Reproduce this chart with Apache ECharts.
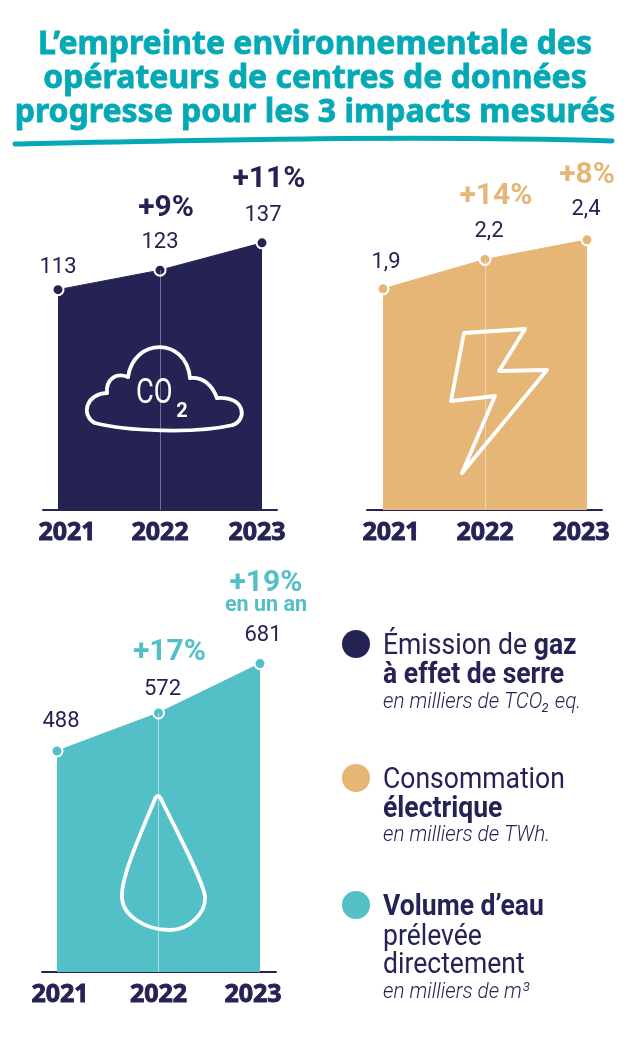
<!DOCTYPE html>
<html lang="fr">
<head>
<meta charset="utf-8">
<title>Empreinte environnementale des centres de données</title>
<script src="https://cdn.jsdelivr.net/npm/echarts@6/dist/echarts.min.js"></script>
<style>
  html, body { margin: 0; padding: 0; background: #fff; }
  #chart { width: 630px; height: 1037px; }
</style>
</head>
<body>
<div id="chart"></div>
<script>
const years = [2021, 2022, 2023];
const co2Values = [113, 123, 137];
const powerValues = [1.9, 2.2, 2.4];
const waterValues = [488, 572, 681];
const co2Growth = ['', '+9%', '+11%'];
const powerGrowth = ['', '+14%', '+8%'];
const waterGrowth = ['', '+17%', '+19%\n{note|en un an}'];

const NAVY = '#252354';
const SAND = '#e5b676';
const TEAL = '#53bfc7';
const TITLE = '#05a9b6';
const ROBOTO = 'Roboto, sans-serif';
const YEAR_FONT = '"Noto Sans", sans-serif';

// px positions of each panel
const panels = [
  { values: co2Values, growth: co2Growth, color: NAVY, ruleColor: 'rgba(255,255,255,0.35)',
    axisLeft: 43, axisRight: 277, first: 58, last: 262, base: 510, top: 237, yMin: 0, yMax: 140,
    yearNudge: [9, 0, -5],
    valueOffset: [[0, -16], [0, -21], [1, -21]], growthOffset: [[0, 0], [6, -61], [7, -63]] },
  { values: powerValues, growth: powerGrowth, color: SAND, ruleColor: 'rgba(255,255,255,0.4)',
    axisLeft: 367, axisRight: 602, first: 383, last: 587, base: 510, top: 230, yMin: -0.355, yMax: 2.5,
    yearNudge: [8, 0, -6],
    valueOffset: [[3, -20], [4, -21], [-1, -24]], growthOffset: [[0, 0], [11, -62], [0, -64]] },
  { values: waterValues, growth: waterGrowth, color: TEAL, ruleColor: 'rgba(255,255,255,0.5)',
    axisLeft: 42, axisRight: 276, first: 57, last: 260, base: 972, top: 655, yMin: 0, yMax: 700,
    yearNudge: [3, 0, -7],
    valueOffset: [[4, -23], [4, -17], [3, -22]], growthOffset: [[0, 0], [11, -60], [6, -70]] }
];

function makePanel(p, i) {
  const pxPerYear = (p.last - p.first) / (years[2] - years[0]);
  const grid = { left: p.axisLeft, width: p.axisRight - p.axisLeft, top: p.top, height: p.base - p.top };
  const xAxis = {
    type: 'value', gridIndex: i,
    min: years[0] - (p.first - p.axisLeft) / pxPerYear,
    max: years[2] + (p.axisRight - p.last) / pxPerYear,
    splitLine: { show: false },
    axisTick: { show: false },
    axisLine: { onZero: false, lineStyle: { color: NAVY, width: 2 } },
    axisLabel: {
      customValues: years.map((y, k) => y + p.yearNudge[k] / pxPerYear),
      formatter: v => String(Math.round(v)),
      margin: 10, color: NAVY, fontFamily: YEAR_FONT, fontWeight: 'bold', fontSize: 25,
      textBorderColor: NAVY, textBorderWidth: 0.9
    }
  };
  const yAxis = { type: 'value', gridIndex: i, min: p.yMin, max: p.yMax, show: false };
  const points = years.map((y, k) => [y, p.values[k]]);
  const area = {
    type: 'line', xAxisIndex: i, yAxisIndex: i, clip: false, z: 2,
    data: points.map((pt, k) => ({
      value: pt,
      label: { offset: p.valueOffset[k] }
    })),
    lineStyle: { color: p.color, width: 1 },
    areaStyle: { color: p.color, opacity: 1, origin: 'start' },
    symbol: 'circle', symbolSize: 11,
    itemStyle: { color: p.color, borderColor: '#fff', borderWidth: 2 },
    label: {
      show: true, position: 'top', distance: 0, verticalAlign: 'middle',
      color: NAVY, fontFamily: ROBOTO, fontSize: 22,
      formatter: o => String(o.value[1]).replace('.', ',')
    },
    markLine: {
      silent: true, symbol: 'none', label: { show: false },
      lineStyle: { color: p.ruleColor, width: 1, type: 'solid' },
      data: [[{ coord: [years[1], p.yMin] }, { coord: [years[1], p.values[1]] }]]
    }
  };
  const growth = {
    type: 'line', xAxisIndex: i, yAxisIndex: i, clip: false, z: 3,
    lineStyle: { width: 0, color: 'rgba(0,0,0,0)' }, symbol: 'circle', symbolSize: 1,
    itemStyle: { color: 'rgba(0,0,0,0)' },
    data: points.map((pt, k) => ({
      value: pt,
      label: { show: p.growth[k] !== '', offset: p.growthOffset[k], formatter: p.growth[k] }
    })),
    label: {
      position: 'top', distance: 0, verticalAlign: 'middle',
      color: p.color, fontFamily: ROBOTO, fontWeight: 'bold', fontSize: 30, lineHeight: 26,
      rich: { note: { color: p.color, fontFamily: ROBOTO, fontWeight: 'bold', fontSize: 21.5, lineHeight: 20 } }
    }
  };
  return { grid, xAxis, yAxis, series: [area, growth] };
}

const built = panels.map(makePanel);

// icons and hand-drawn underline, page px
const WHITE_STROKE = { fill: 'none', stroke: '#fff', lineWidth: 3.8, lineCap: 'round', lineJoin: 'round' };
function curve(x1, y1, c1x, c1y, c2x, c2y, x2, y2, style) {
  return { type: 'bezierCurve', z: 20,
    shape: { x1, y1, cpx1: c1x, cpy1: c1y, cpx2: c2x, cpy2: c2y, x2, y2 },
    style: style || WHITE_STROKE, silent: true };
}
const cloud = [
  [95, 423, 125, 431, 195, 434, 233, 425],
  [233, 425, 247, 420, 246, 396, 217, 398],
  [217, 398, 212, 385, 203, 377, 190, 378],
  [190, 378, 186, 337, 134, 337, 128, 377],
  [128, 377, 115, 372, 106, 380, 107, 393],
  [107, 393, 85, 394, 81, 416, 95, 423]
];
const drop = [
  [155, 799, 140, 835, 122, 875, 122, 895],
  [122, 895, 121, 915, 145, 930, 170, 930],
  [170, 930, 190, 930, 206, 912, 205, 897],
  [205, 897, 204, 882, 175, 828, 161, 799],
  [161, 799, 159, 795, 157, 795, 155, 799]
];
const boltPoints = [[464, 333], [525, 329], [499, 371], [547, 370], [462, 473], [495, 396], [451, 401]];

// legend lines: condensed with scaleX, no condensed face is installed
const CONDENSE = 0.885;
const boldRich = { b: { fontFamily: ROBOTO, fontWeight: 'bold', fontSize: 30, fill: NAVY, verticalAlign: 'middle' } };
function legendText(y, text) {
  return { type: 'text', x: 383, y, scaleX: CONDENSE, z: 20, silent: true,
    style: { text, fill: NAVY, fontFamily: ROBOTO, fontSize: 30, verticalAlign: 'middle', rich: boldRich } };
}
function noteText(y, text) {
  return { type: 'text', x: 383, y, scaleX: 0.92, z: 20, silent: true,
    style: { text, fill: NAVY, fontFamily: ROBOTO, fontStyle: 'italic', fontWeight: 300, fontSize: 22.5, verticalAlign: 'middle' } };
}
function dot(y, color) {
  return { type: 'circle', z: 20, silent: true, shape: { cx: 356, cy: y, r: 14 }, style: { fill: color } };
}

const graphic = [
  curve(15, 144, 200, 140, 420, 135, 612, 141, { fill: 'none', stroke: TITLE, lineWidth: 5, lineCap: 'round' }),
  ...cloud.map(s => curve(...s)),
  ...drop.map(s => curve(...s)),
  { type: 'polygon', z: 20, silent: true, shape: { points: boltPoints }, style: WHITE_STROKE },
  { type: 'text', x: 136, y: 394, scaleX: 0.78, z: 20, silent: true,
    style: { text: 'CO', fill: '#fff', fontFamily: ROBOTO, fontSize: 35, verticalAlign: 'middle' } },
  { type: 'text', x: 182, y: 412, z: 20, silent: true,
    style: { text: '2', fill: '#fff', fontFamily: ROBOTO, fontWeight: 'bold', fontSize: 20, align: 'center', verticalAlign: 'middle' } },
  dot(644, NAVY), dot(778, SAND), dot(905, TEAL),
  legendText(646, 'Émission de {b|gaz}'),
  legendText(675, '{b|à effet de serre}'),
  noteText(702, 'en milliers de TCO₂ eq.'),
  legendText(780, 'Consommation'),
  legendText(809, '{b|électrique}'),
  noteText(835, 'en milliers de TWh.'),
  legendText(907, '{b|Volume d’eau}'),
  legendText(937, 'prélevée'),
  legendText(965, 'directement'),
  noteText(992, 'en milliers de m³')
];

const option = {
  backgroundColor: '#fff',
  animation: false,
  title: {
    text: 'L’empreinte environnementale des\nopérateurs de centres de données\nprogresse pour les 3 impacts mesurés',
    left: 310, top: 23,
    textAlign: 'center',
    textStyle: {
      color: TITLE, fontFamily: '"Noto Sans", sans-serif', fontWeight: 'bold',
      fontSize: 32, lineHeight: 34, textBorderColor: TITLE, textBorderWidth: 0.8
    }
  },
  grid: built.map(b => b.grid),
  xAxis: built.map(b => b.xAxis),
  yAxis: built.map(b => b.yAxis),
  series: built.flatMap(b => b.series),
  graphic: { elements: graphic }
};

const chart = echarts.init(document.getElementById('chart'));
chart.setOption(option);
</script>
</body>
</html>
